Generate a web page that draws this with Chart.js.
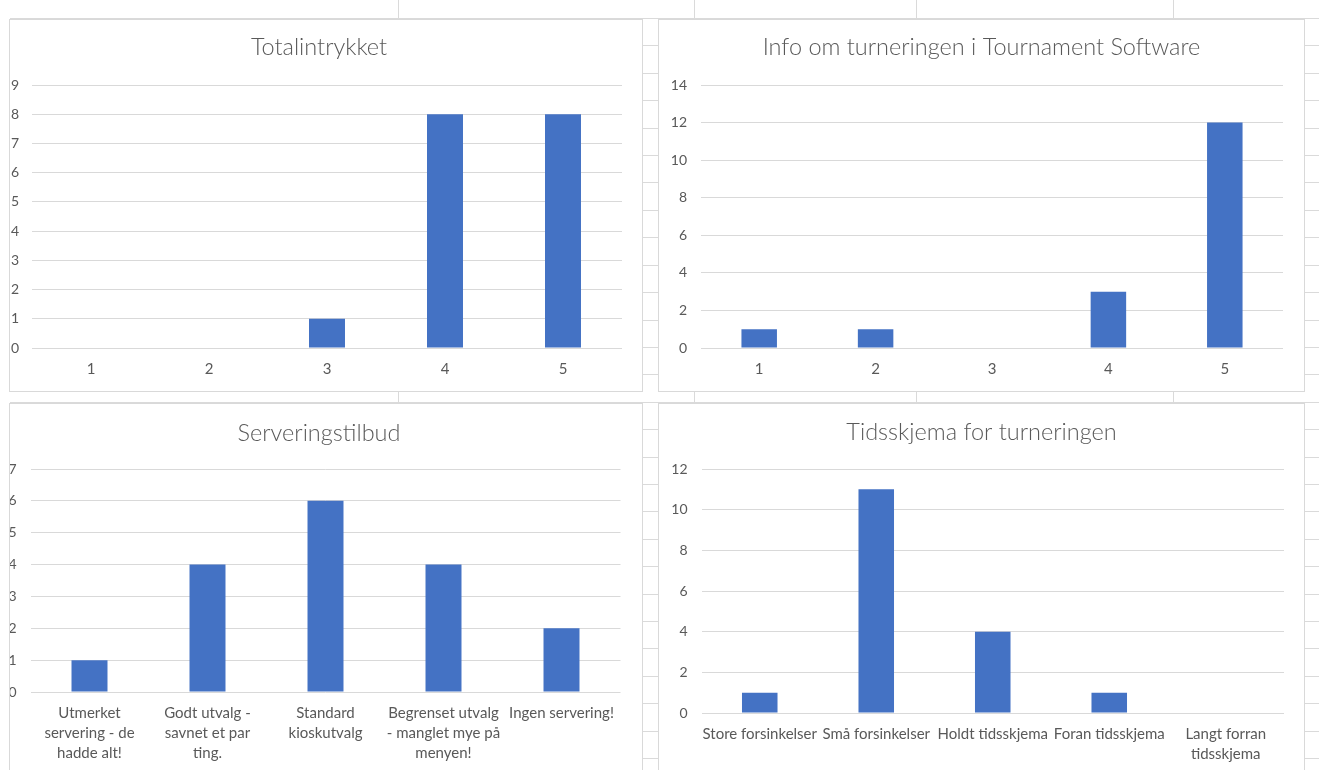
<!DOCTYPE html>
<html>
<head>
<meta charset="utf-8">
<script src="https://cdn.jsdelivr.net/npm/chart.js@4.4.0/dist/chart.umd.min.js"></script>
<style>
  html, body { margin: 0; padding: 0; background: #fff; width: 1319px; height: 770px; overflow: hidden; }
  .rows { position: absolute; left: 10px; top: 18px; width: 1309px; height: 752px;
    background-image: repeating-linear-gradient(to bottom, #dadada 0, #dadada 1px, transparent 1px, transparent 27.41px); }
  .col { position: absolute; top: 0; width: 1px; height: 770px; background: #dadada; }
  .box { position: absolute; background: #fff; border: 1px solid #d9d9d9; box-sizing: border-box; overflow: hidden; }
  canvas { display: block; }
</style>
</head>
<body>
<div class="rows"></div>
<div class="col" style="left:398px"></div>
<div class="col" style="left:694px"></div>
<div class="col" style="left:916px"></div>
<div class="col" style="left:1173px"></div>

<div class="box" style="left:9px;top:19px;width:634px;height:373px"><canvas id="totalChart" width="632" height="371"></canvas></div>
<div class="box" style="left:658px;top:19px;width:647px;height:373px"><canvas id="infoChart" width="645" height="371"></canvas></div>
<div class="box" style="left:9px;top:403px;width:634px;height:380px"><canvas id="serveringChart" width="632" height="378"></canvas></div>
<div class="box" style="left:658px;top:403px;width:647px;height:380px"><canvas id="tidChart" width="645" height="378"></canvas></div>

<script>
// Totalintrykket
let totalLabels = ["1", "2", "3", "4", "5"];
let totalValues = [0, 0, 1, 8, 8];
let totalTicks = [0, 1, 2, 3, 4, 5, 6, 7, 8, 9];

// Info om turneringen i Tournament Software
let infoLabels = ["1", "2", "3", "4", "5"];
let infoValues = [1, 1, 0, 3, 12];
let infoTicks = [0, 2, 4, 6, 8, 10, 12, 14];

// Serveringstilbud
let serveringLabels = [
  ["Utmerket", "servering - de", "hadde alt!"],
  ["Godt utvalg -", "savnet et par", "ting."],
  ["Standard", "kioskutvalg"],
  ["Begrenset utvalg", "- manglet mye på", "menyen!"],
  ["Ingen servering!"],
];
let serveringValues = [1, 4, 6, 4, 2];
let serveringTicks = [0, 1, 2, 3, 4, 5, 6, 7];

// Tidsskjema for turneringen
let tidLabels = [
  "Store forsinkelser",
  "Små forsinkelser",
  "Holdt tidsskjema",
  "Foran tidsskjema",
  ["Langt forran", "tidsskjema"],
];
let tidValues = [1, 11, 4, 1, 0];
let tidTicks = [0, 2, 4, 6, 8, 10, 12];

let textColor = "#595959";
let fontFamily = "Lato, 'Noto Sans', sans-serif";
let titleSize = 23.5;

function makeChart(id, title, labels, values, ticks, g) {
  let ctx = document.getElementById(id).getContext("2d");
  let lh = titleSize * 1.2;
  let padTop = g.titleMid - lh / 2;
  return new Chart(ctx, {
    type: "bar",
    data: {
      labels: labels,
      datasets: [
        {
          data: values,
          backgroundColor: "#4472c4",
          borderWidth: 0,
          barPercentage: 1,
          categoryPercentage: 0.305,
        },
      ],
    },
    options: {
      responsive: false,
      animation: false,
      layout: { padding: { left: 0, right: g.titlePad, top: 0, bottom: 0 } },
      plugins: {
        legend: { display: false },
        tooltip: { enabled: false },
        title: {
          display: true,
          text: title,
          color: textColor,
          font: { family: fontFamily, size: titleSize, weight: 300, lineHeight: 1.2 },
          padding: { top: padTop, bottom: g.plotTop - padTop - lh },
        },
      },
      scales: {
        x: {
          grid: { display: false, drawTicks: false },
          border: { display: false },
          ticks: {
            color: textColor,
            font: { family: fontFamily, size: 15, lineHeight: "20px" },
            padding: 11,
            autoSkip: false,
            maxRotation: 0,
            minRotation: 0,
          },
          afterFit: (s) => { s.height = g.xHeight; },
        },
        y: {
          min: ticks[0],
          max: ticks[ticks.length - 1],
          grid: { color: "#d9d9d9", drawTicks: false },
          border: { display: false },
          ticks: {
            color: textColor,
            font: { family: fontFamily, size: 14 },
            padding: g.tickPad,
          },
          afterBuildTicks: (s) => { s.ticks = ticks.map((v) => ({ value: v })); },
          afterFit: (s) => { s.width = g.plotLeft; },
        },
        // empty right-hand spacer, keeps the title centred on the box
        spacer: {
          type: "linear",
          position: "right",
          min: 0,
          max: 1,
          grid: { display: false, drawTicks: false },
          border: { display: false },
          ticks: { display: false },
          afterFit: (s) => { s.width = g.padRight - g.titlePad; },
        },
      },
    },
  });
}

makeChart("totalChart", "Totalintrykket", totalLabels, totalValues, totalTicks,
  { plotLeft: 22, padRight: 20, titlePad: 14, tickPad: 13, plotTop: 65, xHeight: 43, titleMid: 27 });
makeChart("infoChart", "Info om turneringen i Tournament Software", infoLabels, infoValues, infoTicks,
  { plotLeft: 42, padRight: 21, titlePad: 0, tickPad: 14, plotTop: 65, xHeight: 43, titleMid: 27 });
makeChart("serveringChart", "Serveringstilbud", serveringLabels, serveringValues, serveringTicks,
  { plotLeft: 20.5, padRight: 21.5, titlePad: 14, tickPad: 14, plotTop: 65, xHeight: 90, titleMid: 29 });
makeChart("tidChart", "Tidsskjema for turneringen", tidLabels, tidValues, tidTicks,
  { plotLeft: 42.5, padRight: 20, titlePad: 0, tickPad: 14, plotTop: 65, xHeight: 69, titleMid: 28 });
</script>
</body>
</html>
